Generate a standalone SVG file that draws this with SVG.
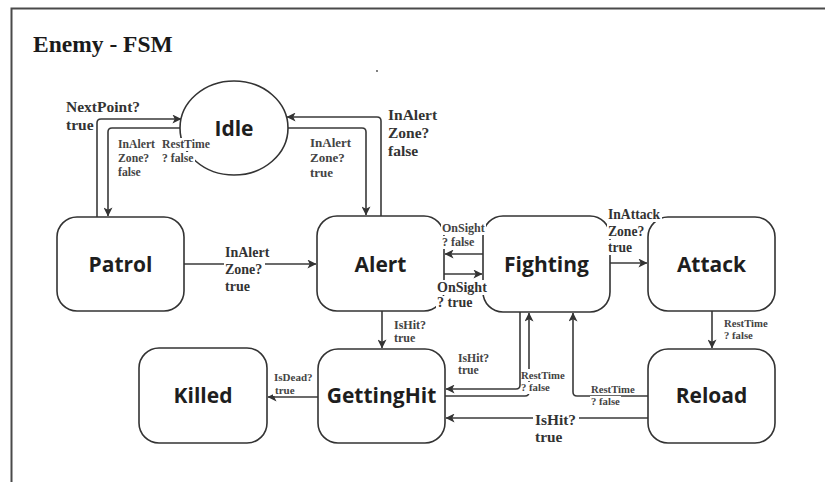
<svg xmlns="http://www.w3.org/2000/svg" width="825" height="482" viewBox="0 0 825 482">
  <defs>
    <marker id="arrow" viewBox="0 0 10 10" refX="9.5" refY="5" markerWidth="9" markerHeight="9" orient="auto" markerUnits="userSpaceOnUse">
      <path d="M0,0 L10,5 L0,10 L2.5,5 z" fill="#333"/>
    </marker>
    <style>
      .frame { fill: none; stroke: #4a4a4a; stroke-width: 2; }
      .state { fill: #fff; stroke: #333; stroke-width: 1.6; }
      .name { font-family: "Open Sans", "DejaVu Sans", sans-serif; font-weight: bold; font-size: 21px; fill: #1e1e1e; text-anchor: middle; }
      .edge { fill: none; stroke: #3a3a3a; stroke-width: 1.6; marker-end: url(#arrow); }
      .lbl { font-family: "Liberation Serif", "Times New Roman", serif; font-weight: bold; fill: #333; }
      .sm { fill: #444; }
      .bg { fill: #fff; }
      .title { font-family: "Liberation Serif", "Times New Roman", serif; font-weight: bold; font-size: 23.5px; fill: #1a1a1a; }
    </style>
  </defs>

  <rect width="825" height="482" fill="#fff"/>
  <!-- page frame -->
  <path class="frame" d="M11.5,482 V8.5 H825"/>
  <text class="title" x="33" y="52">Enemy - FSM</text>
  <circle cx="377" cy="71" r="0.9" fill="#444"/>

  <!-- connectors -->
  <g id="connectors">
    <path class="edge" d="M97,217 V123 Q97,119 101,119 H181"/>
    <path class="edge" d="M180,128 H112 Q108,128 108,132 V216"/>
    <path class="edge" d="M288,128 H362 Q366,128 366,132 V215"/>
    <path class="edge" d="M381,216 V121 Q381,117 377,117 H287"/>
    <path class="edge" d="M184,264 H316"/>
    <path class="edge" d="M483,254 H445"/>
    <path class="edge" d="M444,274 H482"/>
    <path class="edge" d="M610,263 H647"/>
    <path class="edge" d="M712,311 V348"/>
    <path class="edge" d="M648,396 H577 Q573,396 573,392 V313"/>
    <path class="edge" d="M648,418 H446"/>
    <path class="edge" d="M520,312 V385 Q520,389 516,389 H446"/>
    <path class="edge" d="M445,396 H525 Q529,396 529,392 V313"/>
    <path class="edge" d="M382,311 V348"/>
    <path class="edge" d="M318,397 H268"/>
  </g>

  <!-- states -->
  <g id="idle">
    <ellipse class="state" cx="234" cy="128" rx="54" ry="47"/>
    <text class="name" x="234" y="136">Idle</text>
  </g>
  <g id="patrol">
    <rect class="state" x="57" y="217" width="127" height="94" rx="20"/>
    <text class="name" x="120.5" y="272">Patrol</text>
  </g>
  <g id="alert">
    <rect class="state" x="317" y="216" width="127" height="95" rx="20"/>
    <text class="name" x="380.5" y="272">Alert</text>
  </g>
  <g id="fighting">
    <rect class="state" x="483" y="216" width="127" height="96" rx="20"/>
    <text class="name" x="546.5" y="272">Fighting</text>
  </g>
  <g id="attack">
    <rect class="state" x="648" y="217" width="127" height="94" rx="20"/>
    <text class="name" x="711.5" y="272">Attack</text>
  </g>
  <g id="killed">
    <rect class="state" x="139" y="348" width="128" height="95" rx="20"/>
    <text class="name" x="203" y="403">Killed</text>
  </g>
  <g id="gettinghit">
    <rect class="state" x="318" y="349" width="127" height="94" rx="20"/>
    <text class="name" x="381.5" y="403">GettingHit</text>
  </g>
  <g id="reload">
    <rect class="state" x="648" y="349" width="127" height="94" rx="20"/>
    <text class="name" x="711.5" y="403">Reload</text>
  </g>

  <!-- transition labels -->
  <g id="labels">
    <g class="lbl" font-size="15.5">
      <text x="66" y="112">NextPoint?</text>
      <text x="66" y="130">true</text>
    </g>
    <g class="lbl sm" font-size="11.7">
      <text x="118" y="148">InAlert</text>
      <text x="118" y="162">Zone?</text>
      <text x="118" y="175.5">false</text>
    </g>
    <rect class="bg" x="161" y="138" width="50" height="13"/>
    <rect class="bg" x="161" y="152" width="34" height="13"/>
    <g class="lbl sm" font-size="11.7">
      <text x="162" y="148">RestTime</text>
      <text x="162" y="162">? false</text>
    </g>
    <g class="lbl sm" font-size="13">
      <text x="310" y="147">InAlert</text>
      <text x="310" y="162">Zone?</text>
      <text x="310" y="177">true</text>
    </g>
    <g class="lbl" font-size="15.5">
      <text x="388" y="120">InAlert</text>
      <text x="388" y="138">Zone?</text>
      <text x="388" y="156">false</text>
    </g>

    <rect class="bg" x="224" y="246" width="47" height="15"/>
    <rect class="bg" x="224" y="262" width="41" height="16"/>
    <rect class="bg" x="224" y="279" width="28" height="15"/>
    <g class="lbl" font-size="14">
      <text x="225" y="257">InAlert</text>
      <text x="225" y="274">Zone?</text>
      <text x="225" y="290.5">true</text>
    </g>

    <rect class="bg" x="441" y="222" width="45" height="13"/>
    <rect class="bg" x="441" y="236" width="34" height="13"/>
    <g class="lbl sm" font-size="12">
      <text x="442" y="232">OnSight</text>
      <text x="442" y="245.5">? false</text>
    </g>
    <rect class="bg" x="436" y="280" width="52" height="15"/>
    <rect class="bg" x="436" y="296" width="38" height="15"/>
    <g class="lbl" font-size="14">
      <text x="437" y="292">OnSight</text>
      <text x="437" y="307">? true</text>
    </g>

    <rect class="bg" x="607" y="207" width="55" height="15"/>
    <rect class="bg" x="607" y="223" width="39" height="16"/>
    <rect class="bg" x="607" y="240" width="27" height="15"/>
    <g class="lbl" font-size="13.6">
      <text x="608" y="219">InAttack</text>
      <text x="608" y="236">Zone?</text>
      <text x="608" y="252">true</text>
    </g>

    <g class="lbl sm" font-size="10.7">
      <text x="724" y="327">RestTime</text>
      <text x="724" y="339">? false</text>
    </g>

    <rect class="bg" x="590" y="384" width="46" height="11"/>
    <rect class="bg" x="590" y="396" width="31" height="11"/>
    <g class="lbl sm" font-size="10.7">
      <text x="591" y="393">RestTime</text>
      <text x="591" y="405">? false</text>
    </g>

    <rect class="bg" x="533" y="410" width="46" height="17"/>
    <g class="lbl" font-size="15.4">
      <text x="535" y="425">IsHit?</text>
      <text x="535" y="442">true</text>
    </g>

    <rect class="bg" x="521" y="369" width="45" height="12"/>
    <rect class="bg" x="521" y="382" width="31" height="12"/>
    <g class="lbl sm" font-size="10.7">
      <text x="521" y="379">RestTime</text>
      <text x="521" y="391">? false</text>
    </g>

    <g class="lbl sm" font-size="11.7">
      <text x="458" y="362">IsHit?</text>
      <text x="458" y="374">true</text>
    </g>
    <g class="lbl sm" font-size="12">
      <text x="394" y="329">IsHit?</text>
      <text x="394" y="342">true</text>
    </g>

    <rect class="bg" x="273" y="371" width="42" height="12"/>
    <rect class="bg" x="273" y="385" width="22" height="11"/>
    <g class="lbl sm" font-size="11">
      <text x="274" y="381">IsDead?</text>
      <text x="275" y="394">true</text>
    </g>
  </g>
</svg>
